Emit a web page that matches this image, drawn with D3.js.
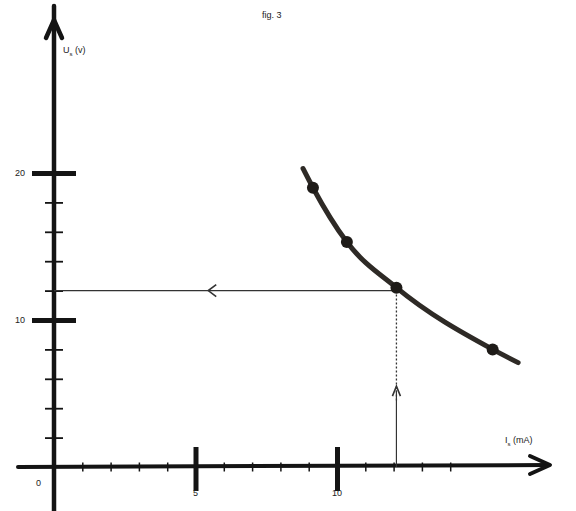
<!DOCTYPE html>
<html>
<head>
<meta charset="utf-8">
<script src="https://cdn.jsdelivr.net/npm/d3@7"></script>
<style>
  body { margin: 0; background: #fff; }
  svg { display: block; }
  text { font-family: "Liberation Sans", Arial, sans-serif; fill: #222; }
</style>
</head>
<body>
<div id="chart"></div>
<script>
// values
const currentMA = [8.8, 9.15, 10.35, 12.1, 15.5, 16.4];   // I_s (mA)
const voltageV  = [20.3, 19.0, 15.3, 12.2, 8.0, 7.1];     // U_s (V)
const markedIdx = [1, 2, 3, 4];                            // measured points (blobs)
const xMinorTicks = [1, 2, 3, 4, 6, 7, 8, 9, 11, 12, 13, 14];
const xMajorTicks = [5, 10];
const yMinorTicks = [2, 4, 6, 8, 12, 14, 16, 18];
const yMajorTicks = [10, 20];
const readOff = { i: 12.1, u: 12.0 };

const width = 576, height = 511;

const svg = d3.select('#chart')
  .append('svg')
  .attr('width', width)
  .attr('height', height);

const x = d3.scaleLinear().domain([0, 10]).range([54, 337]);
const y = d3.scaleLinear().domain([0, 20]).range([467, 173]);

const ink = '#141414';

// little helper: axis with ticks centred on the axis line
function ticks(axisFn, scale, values, size, strokeW, shift) {
  const g = svg.append('g')
    .attr('transform', shift)
    .call(axisFn(scale).tickValues(values).tickSize(size).tickFormat(''));
  g.select('.domain').remove();
  g.selectAll('line').attr('stroke', ink).attr('stroke-width', strokeW);
  return g;
}

// minor + major ticks
ticks(d3.axisBottom, x, xMinorTicks, 9, 1.5, `translate(0,${y(0) - 4.5})`);
ticks(d3.axisBottom, x, xMajorTicks, 44, 5, `translate(0,${y(0) - 20})`);
ticks(d3.axisLeft, y, yMinorTicks, 18, 1.8, `translate(${x(0) + 9},0)`);
ticks(d3.axisLeft, y, yMajorTicks, 44, 5, `translate(${x(0) + 22},0)`);

// axis lines with arrows
const axes = svg.append('g').attr('stroke', ink).attr('fill', 'none')
  .attr('stroke-linecap', 'round');
axes.append('line')
  .attr('x1', 18).attr('x2', 548).attr('y1', y(0)).attr('y2', y(0) - 2)
  .attr('stroke-width', 4);
axes.append('path')
  .attr('d', `M530,${y(0) - 11} L550,${y(0) - 2} L530,${y(0) + 7}`)
  .attr('stroke-width', 4).attr('stroke-linejoin', 'round');
axes.append('line')
  .attr('x1', x(0)).attr('x2', x(0)).attr('y1', 512).attr('y2', 6)
  .attr('stroke-width', 4.5);
axes.append('path')
  .attr('d', `M${x(0) - 8},38 L${x(0)},20 L${x(0) + 8},38`)
  .attr('stroke-width', 4.5).attr('stroke-linejoin', 'round');

// read-off guide lines
const guide = svg.append('g').attr('stroke', '#333').attr('fill', 'none');
guide.append('line')
  .attr('x1', x(0)).attr('x2', x(readOff.i))
  .attr('y1', y(readOff.u)).attr('y2', y(readOff.u))
  .attr('stroke-width', 1.3);
guide.append('line')
  .attr('x1', x(readOff.i)).attr('x2', x(readOff.i))
  .attr('y1', y(readOff.u)).attr('y2', y(4.5))
  .attr('stroke-width', 1.3).attr('stroke-dasharray', '2,2');
guide.append('line')
  .attr('x1', x(readOff.i)).attr('x2', x(readOff.i))
  .attr('y1', y(5.2)).attr('y2', y(0))
  .attr('stroke-width', 1.2);
// arrowheads on the guides
const ax = x(5.45), ay = y(readOff.u);
guide.append('path')
  .attr('d', `M${ax + 8},${ay - 6} L${ax},${ay} L${ax + 8},${ay + 6}`)
  .attr('stroke-width', 1.6);
const vx = x(readOff.i), vy = y(5.5);
guide.append('path')
  .attr('d', `M${vx - 4},${vy + 10} L${vx},${vy} L${vx + 4},${vy + 10}`)
  .attr('stroke-width', 1.6);

// characteristic curve
const pts = currentMA.map((c, i) => [c, voltageV[i]]);
svg.append('path')
  .datum(pts)
  .attr('fill', 'none')
  .attr('stroke', '#2e2a26')
  .attr('stroke-width', 5)
  .attr('stroke-linecap', 'round')
  .attr('d', d3.line().x(d => x(d[0])).y(d => y(d[1])).curve(d3.curveMonotoneX));

svg.append('g').selectAll('circle')
  .data(markedIdx.map(i => pts[i]))
  .join('circle')
  .attr('cx', d => x(d[0]))
  .attr('cy', d => y(d[1]))
  .attr('r', 6)
  .attr('fill', '#1e1b18');

// labels
svg.append('text').attr('x', 262).attr('y', 18).attr('font-size', 9).text('fig. 3');

const uLab = svg.append('text').attr('x', 63).attr('y', 53).attr('font-size', 9);
uLab.append('tspan').text('U');
uLab.append('tspan').attr('font-size', 6).attr('dy', 3).text('s');
uLab.append('tspan').attr('dy', -3).text(' (v)');

const iLab = svg.append('text').attr('x', 505).attr('y', 443).attr('font-size', 9);
iLab.append('tspan').text('I');
iLab.append('tspan').attr('font-size', 6).attr('dy', 3).text('s');
iLab.append('tspan').attr('dy', -3).text(' (mA)');

svg.append('text').attr('x', 36).attr('y', 486).attr('font-size', 9).text('0');
svg.append('g').selectAll('text')
  .data(xMajorTicks)
  .join('text')
  .attr('x', d => x(d))
  .attr('y', 496)
  .attr('text-anchor', 'middle')
  .attr('font-size', 9)
  .text(d => d);
svg.append('g').selectAll('text')
  .data(yMajorTicks)
  .join('text')
  .attr('x', 25)
  .attr('y', d => y(d) + 3)
  .attr('text-anchor', 'end')
  .attr('font-size', 9)
  .text(d => d);
</script>
</body>
</html>
